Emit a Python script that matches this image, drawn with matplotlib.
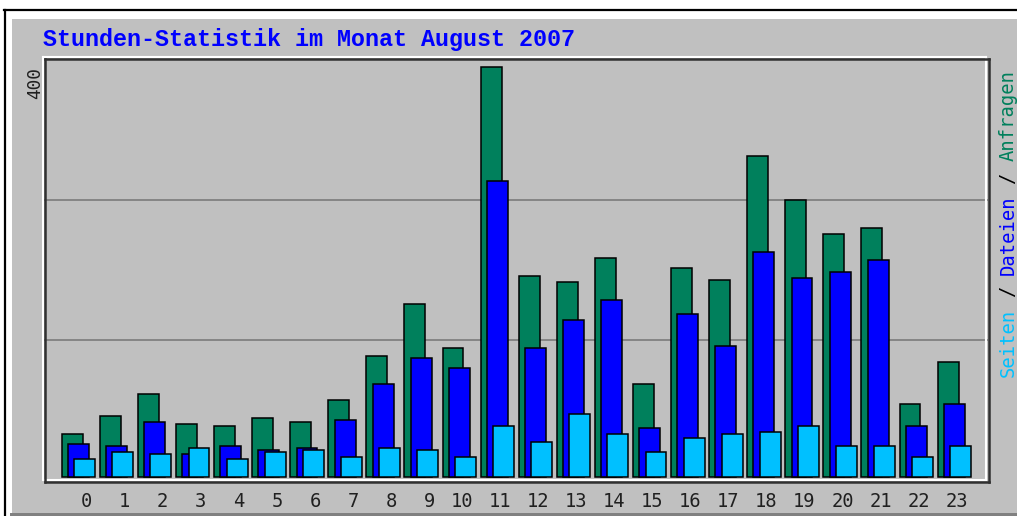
import matplotlib
matplotlib.use("Agg")
import matplotlib.pyplot as plt
from matplotlib.patches import Rectangle
from matplotlib.lines import Line2D

# ---- data ----
hours = list(range(24))
hour_labels = [str(h) for h in hours]
anfragen = [42, 60, 81, 52, 50, 58, 54, 75, 118, 169, 126, 400, 196, 190, 214, 91,
            204, 192, 313, 270, 237, 243, 71, 112]
dateien = [32, 30, 54, 22, 30, 26, 28, 56, 91, 116, 106, 289, 126, 153, 173, 48,
           159, 128, 220, 194, 200, 212, 50, 71]
seiten = [18, 24, 22, 28, 18, 24, 26, 20, 28, 26, 20, 50, 34, 61, 42, 24,
          38, 42, 44, 50, 30, 30, 20, 30]
grid_values = [134, 270]
max_label = "400"
title = "Stunden-Statistik im Monat August 2007"

C_GREEN = "#00805C"
C_BLUE = "#0000FF"
C_CYAN = "#00C0FF"
C_BG = "#C0C0C0"

W, H = 1017, 516
fig = plt.figure(figsize=(W / 100, H / 100), dpi=100, facecolor="white")


def fx(x):
    return x / W


def fy(y):
    return 1 - y / H


def hline(x0, x1, y, color, lw=1.5):
    fig.add_artist(Line2D([fx(x0), fx(x1)], [fy(y), fy(y)], color=color, lw=lw,
                          transform=fig.transFigure, zorder=10))


def vline(x, y0, y1, color, lw=1.5):
    fig.add_artist(Line2D([fx(x), fx(x)], [fy(y0), fy(y1)], color=color, lw=lw,
                          transform=fig.transFigure, zorder=10))


# outer panel
fig.add_artist(Rectangle((fx(12), fy(513)), fx(W) - fx(12), fy(19) - fy(513),
                         transform=fig.transFigure, facecolor=C_BG, edgecolor="none",
                         zorder=-10))
fig.add_artist(Rectangle((fx(10), fy(516)), 1, fy(513) - fy(516),
                         transform=fig.transFigure, facecolor="#808080", edgecolor="none",
                         zorder=-10))
hline(4, W, 10, "black", 1.6)
vline(4.5, 10, H, "black", 1.6)

# axes
left, right, top, bottom = 43, 988, 58, 481
ax = fig.add_axes([fx(left), fy(bottom), fx(right) - fx(left), fy(top) - fy(bottom)])
ax.set_zorder(1)
ax.set_facecolor(C_BG)
for s in ax.spines.values():
    s.set_visible(False)

pitch = 38.08
x0 = 78.5
ax.set_xlim((left - x0) / pitch, (right - x0) / pitch)
ax.set_ylim(-3.9, 408.8)

for g in grid_values:
    ax.axhline(g, color="#808080", lw=1.3, zorder=1)

w = 0.55
off = 0.165
ax.bar([h - off for h in hours], anfragen, width=w, color=C_GREEN, edgecolor="black",
       linewidth=1.1, zorder=2)
ax.bar(hours, dateien, width=w, color=C_BLUE, edgecolor="black", linewidth=1.1, zorder=3)
ax.bar([h + off for h in hours], seiten, width=w, color=C_CYAN, edgecolor="black",
       linewidth=1.1, zorder=4)

ax.set_xticks([h + 0.36 for h in hours])
ax.set_xticklabels(hour_labels, family="DejaVu Sans Mono", fontsize=13.5, color="#202020",
                   ha="right")
ax.tick_params(axis="x", length=0, pad=8)
ax.set_yticks([])

# frame: white highlight up-left, dark line down-right
hline(43, 986, 57, "white", 1.5)
vline(43, 57, 479, "white", 1.5)
hline(43, 986, 479.5, "white", 1.5)
vline(986, 57, 479, "white", 1.5)
hline(45, 989, 59, "#303030", 1.8)
vline(45, 59, 482, "#303030", 1.8)
hline(45, 989, 482, "#303030", 1.8)
vline(989, 59, 482, "#303030", 1.8)

# title
fig.text(fx(43), fy(46), title, family=["Liberation Mono", "DejaVu Sans Mono"],
         fontweight="bold", fontsize=16.8, color=C_BLUE, ha="left", va="baseline")

# max label
fig.text(fx(35), fy(67), max_label, family="DejaVu Sans Mono", fontsize=12.8,
         color="#202020", rotation=90, rotation_mode="anchor", ha="right", va="center")

# right legend
fs = 13.6
adv = 0.602 * fs * 100 / 72
pieces = [("Seiten", 0, C_CYAN), ("/", 7, "black"), ("Dateien", 9, C_BLUE),
          ("/", 17, "black"), ("Anfragen", 19, C_GREEN)]
for txt, idx, col in pieces:
    fig.text(fx(1008), fy(377 - idx * adv), txt, family="DejaVu Sans Mono", fontsize=fs,
             color=col, rotation=90, rotation_mode="anchor", ha="left", va="center")

fig.savefig("out.png", dpi=100, facecolor="white")
